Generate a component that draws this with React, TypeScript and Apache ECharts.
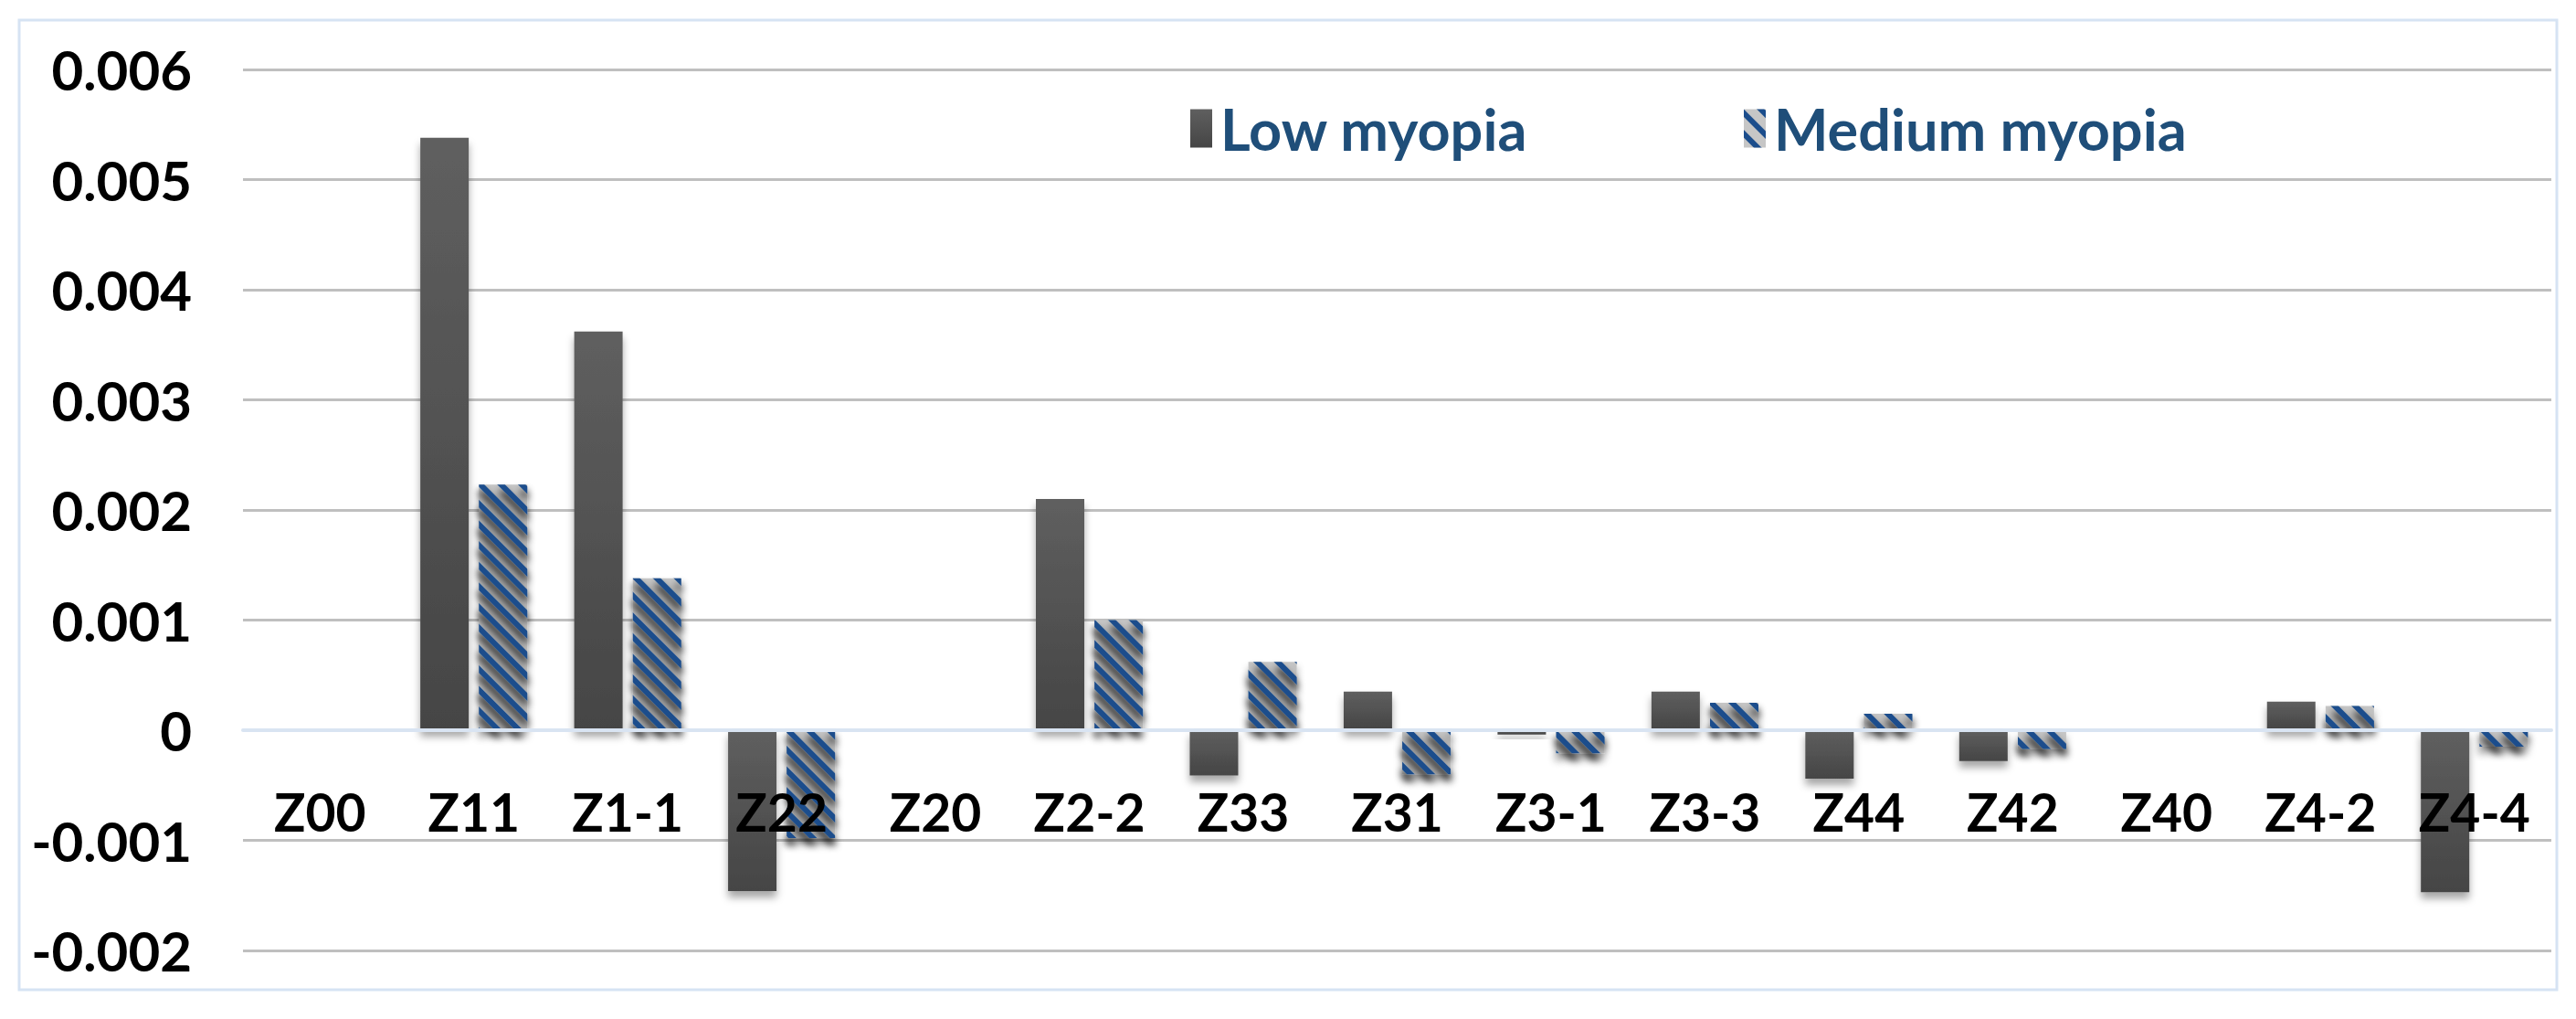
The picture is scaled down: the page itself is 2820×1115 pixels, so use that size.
import React, { useEffect, useRef } from "react";
import * as echarts from "echarts";

const categories = ["Z00", "Z11", "Z1-1", "Z22", "Z20", "Z2-2", "Z33", "Z31", "Z3-1", "Z3-3", "Z44", "Z42", "Z40", "Z4-2", "Z4-4"];
const lowMyopia = [0, 0.00538, 0.00362, -0.00146, 0, 0.0021, -0.00041, 0.00035, -0.00004, 0.00035, -0.00044, -0.00028, 0, 0.00026, -0.00147];
const mediumMyopia = [0, 0.00223, 0.00138, -0.00098, 0, 0.001, 0.00062, -0.0004, -0.00021, 0.00025, 0.00015, -0.00017, 0, 0.00022, -0.00015];
const seriesNames = ["Low myopia", "Medium myopia"];
const yMin = -0.002;
const yMax = 0.006;
const yInterval = 0.001;

export default function App() {
  const ref = useRef<HTMLDivElement>(null);
  useEffect(() => {
    document.body.style.margin = "0";
    const chart = echarts.init(ref.current!, null, { renderer: "svg" });
    const W = 2820;
    const H = 1115;
    const gridTop = 76;
    const gridBottom = 75;
    const gridH = H - gridTop - gridBottom;
    // distance from bottom of grid up to the zero value
    const zeroOffset = -(gridH * (0 - yMin)) / (yMax - yMin);
    const shadow = {
      shadowBlur: 8,
      shadowOffsetY: 7,
      shadowColor: "rgba(0,0,0,0.35)",
    };
    const legendText = {
      fontFamily: "Lato",
      fontWeight: "bold",
      fontSize: 63,
      color: "#1F4E79",
      padding: [0, 0, 0, 4],
    };
    chart.setOption({
      animation: false,
      backgroundColor: "#ffffff",
      graphic: [
        {
          type: "rect",
          shape: { x: 21, y: 22, width: W - 42, height: H - 54 },
          style: { fill: "none", stroke: "#d6e3f3", lineWidth: 3 },
          silent: true,
        },
      ],
      legend: [
        {
          top: 104,
          left: 1298,
          itemWidth: 24,
          itemHeight: 42,
          icon: "rect",
          textStyle: legendText,
          data: [seriesNames[0]],
        },
        {
          top: 104,
          left: 1904,
          itemWidth: 24,
          itemHeight: 42,
          icon: "rect",
          textStyle: legendText,
          data: [seriesNames[1]],
        },
      ],
      grid: {
        left: 266,
        right: 27,
        top: gridTop,
        bottom: gridBottom,
        containLabel: false,
        outerBoundsMode: "none",
      },
      xAxis: {
        type: "category",
        data: categories,
        offset: zeroOffset,
        z: 10,
        axisLine: { onZero: false, lineStyle: { color: "#d9e4f2", width: 4 } },
        axisTick: { show: false },
        axisLabel: {
          fontFamily: "Lato",
          fontWeight: "bold",
          fontSize: 57,
          color: "#000000",
          margin: 60,
          interval: 0,
        },
      },
      yAxis: {
        type: "value",
        min: yMin,
        max: yMax,
        interval: yInterval,
        axisLine: { show: false },
        axisTick: { show: false },
        splitLine: { lineStyle: { color: "#bfbfbf", width: 3 } },
        axisLabel: {
          fontFamily: "Lato",
          fontWeight: "bold",
          fontSize: 60,
          color: "#000000",
          margin: 56,
          formatter: (v: number) => String(+v.toFixed(3)),
        },
      },
      series: [
        {
          name: seriesNames[0],
          type: "bar",
          data: lowMyopia,
          barWidth: 53,
          barGap: "21%",
          itemStyle: {
            color: new echarts.graphic.LinearGradient(0, 0, 0, 1, [
              { offset: 0, color: "#5f5f5f" },
              { offset: 1, color: "#454545" },
            ]),
            ...shadow,
          },
        },
        {
          name: seriesNames[1],
          type: "bar",
          data: mediumMyopia,
          barWidth: 53,
          itemStyle: {
            color: "#c6c6c6",
            decal: {
              symbol: "rect",
              color: "#1b4d8c",
              dashArrayX: [1, 0],
              dashArrayY: [6, 10],
              rotation: Math.PI / 4,
            },
            ...shadow,
          },
        },
      ],
    });
    return () => chart.dispose();
  }, []);
  return <div ref={ref} style={{ width: 2820, height: 1115 }} />;
}
